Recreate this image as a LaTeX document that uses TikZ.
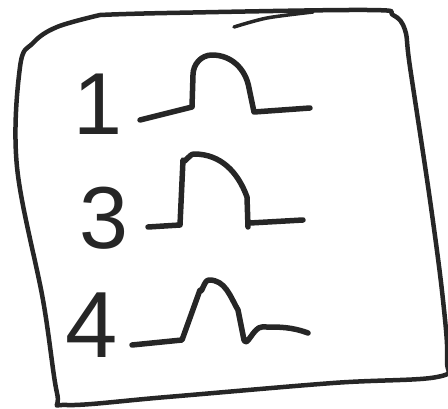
\documentclass[tikz,border=0pt]{standalone}
\usepackage{fontspec}
\newfontfamily\digitfont{Liberation Sans}
\begin{document}
\begin{tikzpicture}[x=1pt,y=-1pt,
  pen/.style={line width=5.5pt,line cap=round,line join=round,draw=black!85},
  digit/.style={font=\digitfont\fontsize{88}{88}\selectfont,text=black!85,inner sep=0pt,anchor=center}]
\useasboundingbox (0,0) rectangle (448,409);
% frame
\draw[pen,line width=4.5pt] plot[smooth,tension=0.6] coordinates {
 (100,15) (167,13) (367,10) (393,15) (405,30) (410,67) (430,200) (443,300) (447,360) (437,377)
 (333,383) (167,397) (67,405) (57,393) (43,300) (17,167) (20,67) (33,43) (57,27) (100,15)};
\draw[pen,line width=3.5pt] plot[smooth] coordinates {(234,27) (267,18) (313,12)};
% digits
\node[digit] (d1) at (98,104) {1};
\node[digit] (d3) at (104,218) {3};
\node[digit,font=\digitfont\fontsize{94}{94}\selectfont] (d4) at (92,325) {4};
% waveforms
\draw[pen] (140,120) -- (192,107) -- (193,75) to[out=90,in=180] (212,55) to[out=0,in=100] (249,88) -- (254,112) -- (310,108);
\draw[pen] (148,227) -- (180,225) -- (183,160) to[out=-80,in=180] (194,154) to[out=0,in=110] (247,197) -- (248,227);
\draw[pen] (250,223) -- (303,220);
\draw[pen] (132,345) -- (182,340) -- (200,290) to[out=-70,in=180] (209,280) to[out=0,in=120] (238,310) -- (244,340) to[out=-70,in=180] (262,327) to[out=0,in=160] (308,333);
\end{tikzpicture}
\end{document}
